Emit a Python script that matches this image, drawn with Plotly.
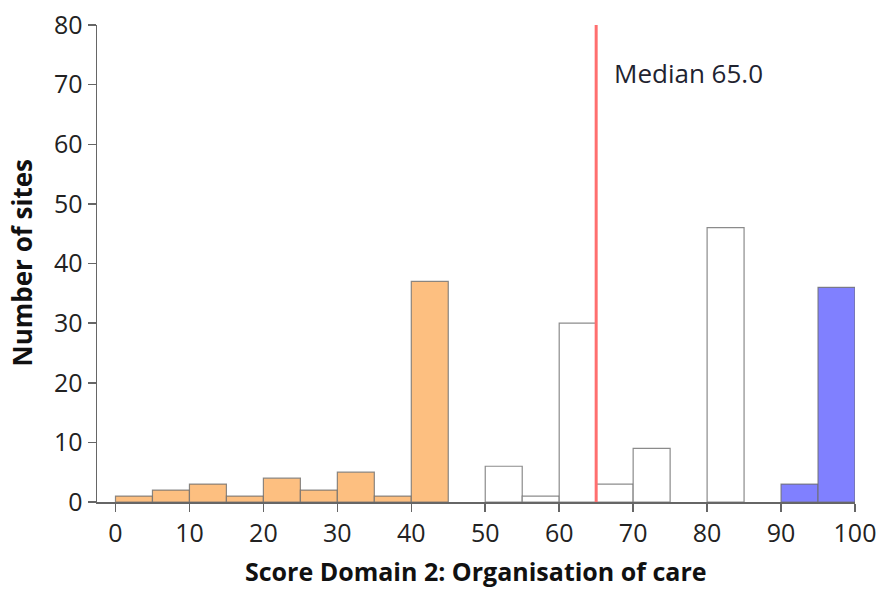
import plotly.graph_objects as go

# Histogram bins (width 5) and counts
low_bins = [0, 5, 10, 15, 20, 25, 30, 35, 40]
low_counts = [1, 2, 3, 1, 4, 2, 5, 1, 37]
mid_bins = [50, 55, 60, 65, 70, 80]
mid_counts = [6, 1, 30, 3, 9, 46]
high_bins = [90, 95]
high_counts = [3, 36]
bin_width = 5
median_value = 65.0

x_ticks = list(range(0, 101, 10))
y_ticks = list(range(0, 81, 10))

font_family = "Open Sans, Noto Sans, sans-serif"
edge = "rgba(110,110,110,0.8)"

fig = go.Figure()
for bins, counts, color in [
    (low_bins, low_counts, "#FDBF80"),
    (mid_bins, mid_counts, "#FFFFFF"),
    (high_bins, high_counts, "#8080FF"),
]:
    fig.add_trace(go.Bar(
        x=[b + bin_width / 2 for b in bins],
        y=counts,
        width=bin_width,
        marker=dict(color=color, line=dict(color=edge, width=1.2)),
        showlegend=False,
        hoverinfo="skip",
    ))

fig.add_shape(type="line", xref="x", yref="y", x0=median_value, x1=median_value,
              y0=0, y1=80, line=dict(color="#FF6F6F", width=3))
fig.add_annotation(x=median_value + 2.2, y=72, xref="x", yref="y",
                   text=f"Median {median_value:.1f}", showarrow=False,
                   xanchor="left", yanchor="middle",
                   font=dict(family=font_family, size=26, color="#1f2330"))

fig.add_annotation(x=0.5, y=0, xref="paper", yref="paper", yshift=-69,
                   text="<b>Score Domain 2: Organisation of care</b>", showarrow=False,
                   xanchor="center", yanchor="middle", borderpad=0,
                   font=dict(family=font_family, size=25, color="#111111"))
fig.add_annotation(x=0, y=0.5, xref="paper", yref="paper", xshift=-76,
                   text="<b>Number of sites</b>", showarrow=False, textangle=-90,
                   xanchor="center", yanchor="middle",
                   font=dict(family=font_family, size=26, color="#111111"))

fig.update_layout(
    width=879, height=590,
    margin=dict(l=97, r=24, t=25, b=88),
    plot_bgcolor="white", paper_bgcolor="white",
    barmode="overlay", bargap=0,
    font=dict(family=font_family, color="#222222"),
)
axis_common = dict(
    ticks="outside", ticklen=8, tickcolor="#666666", tickwidth=1.5,
    showline=True, linecolor="#666666", linewidth=1.5,
    showgrid=False, zeroline=False, automargin=False,
    tickfont=dict(size=25, family=font_family, color="#222222"),
)
fig.update_xaxes(range=[-2.5, 100], tickvals=x_ticks, **axis_common)
fig.update_yaxes(range=[0, 80], tickvals=y_ticks, **axis_common)

fig.write_html(
    "out.html",
    config={"displayModeBar": False, "staticPlot": True},
    post_script="document.body.style.margin='0';document.body.style.padding='0';"
                "document.body.style.overflow='hidden';",
)
